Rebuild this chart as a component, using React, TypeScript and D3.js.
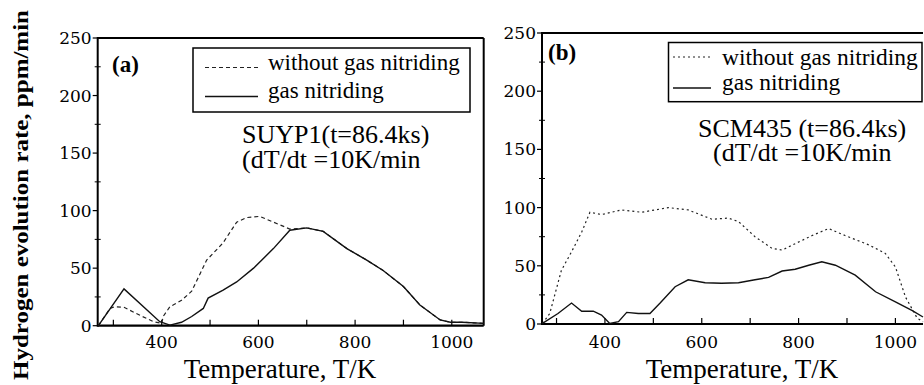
import React from "react";
import * as d3 from "d3";

// ---------- data ----------
const yTicksMajor = [0, 50, 100, 150, 200, 250];
const yTicksMinor = [25, 75, 125, 175, 225];
const xTickLabels = [400, 600, 800, 1000];
const xTicksAll = [300, 400, 500, 600, 700, 800, 900, 1000];

// Panel (a) SUYP1
const aTemp = [269, 322, 396, 417, 441, 462, 486, 496, 527, 555, 590, 631, 665, 700, 734, 783, 824, 858, 900, 934, 976, 997, 1021, 1066];
const aNitrided = [0, 32, 3.5, 0.5, 3, 8, 15, 24, 31, 38, 50, 67, 83, 85, 82, 67, 57, 48, 34, 18, 5, 3, 3, 2];
const aTempWithout = [269, 293, 303, 322, 355, 383, 400, 403, 417, 441, 462, 493, 527, 555, 576, 603, 631, 665, 700, 734, 783, 824, 858, 900, 934, 976, 997, 1021, 1066];
const aWithout = [0, 15, 16.5, 16, 9, 3.5, 2, 8, 16.5, 22, 30, 57, 72, 90, 94, 95, 90, 84, 85, 82, 67, 57, 48, 34, 18, 5, 3, 3, 2];

// Panel (b) SCM435
const bTemp = [271, 303, 331, 352, 376, 393, 410, 428, 445, 469, 493, 514, 545, 572, 607, 641, 676, 710, 738, 766, 793, 821, 848, 876, 917, 959, 1000, 1035, 1057];
const bNitrided = [0.5, 9, 18, 11, 11, 7.7, 0.5, 2, 10, 9, 9, 18, 32, 38, 35.5, 35, 35.5, 38, 40, 45.5, 47, 50.5, 53.5, 50.5, 42, 27.7, 19, 11.5, 6];
const bTempWithout = [271, 286, 310, 331, 352, 369, 393, 434, 476, 531, 572, 621, 655, 676, 710, 745, 766, 793, 828, 862, 896, 945, 979, 1000, 1021, 1045, 1057];
const bWithout = [0.5, 9, 46, 62, 79, 96, 94, 98, 96, 100, 98, 90, 91, 88, 75, 65, 63.5, 69, 76, 82, 76, 68, 60.7, 49, 23, 5, 2];

const legendLabels = ["without gas nitriding", "gas nitriding"];
const yTitle = "Hydrogen evolution rate, ppm/min";
const xTitle = "Temperature, T/K";

const SERIF = "Liberation Serif";
const TICKFONT = "DejaVu Serif";

type PanelProps = {
  left: number; right: number; top: number; bottom: number;
  xMin: number; xMax: number;
  tempA: number[]; valA: number[]; // without
  tempB: number[]; valB: number[]; // nitrided
  dashA: string;
  tag: string; tagX: number; tagY: number;
  legend: { x0: number; y0: number; x1: number; y1: number; lx0: number; lx1: number; ly1: number; ly2: number; tx: number; tb1: number; tb2: number; fs: number };
  ann: { l1: string; l2: string; x1: number; x2: number; b1: number; b2: number };
  xTitleX: number;
  rightBorder: boolean;
};

function Panel(p: PanelProps) {
  const x = d3.scaleLinear().domain([p.xMin, p.xMax]).range([p.left, p.right]);
  const y = d3.scaleLinear().domain([0, 250]).range([p.bottom, p.top]);
  const line = d3.line<[number, number]>().x(d => x(d[0])).y(d => y(d[1])).curve(d3.curveLinear);
  const dA = line(p.tempA.map((t, i) => [t, p.valA[i]]))!;
  const dB = line(p.tempB.map((t, i) => [t, p.valB[i]]))!;
  return (
    <g>
      {/* frame */}
      <line x1={p.left} x2={p.right} y1={p.top} y2={p.top} stroke="#000" strokeWidth={2} />
      {p.rightBorder && <line x1={p.right} x2={p.right} y1={p.top} y2={p.bottom} stroke="#000" strokeWidth={2} />}
      <line x1={p.left} x2={p.left} y1={p.top - 1} y2={p.bottom + 1} stroke="#000" strokeWidth={2} />
      <line x1={p.left} x2={p.right} y1={p.bottom} y2={p.bottom} stroke="#000" strokeWidth={2.2} />
      {/* y ticks */}
      {yTicksMajor.map(v => (
        <g key={"ym" + v}>
          <line x1={p.left - 5} x2={p.left} y1={y(v)} y2={y(v)} stroke="#000" strokeWidth={1.2} />
          <text x={p.left - 6} y={y(v)} textAnchor="end" dominantBaseline="central" fontFamily={TICKFONT} fontSize={17}>{v}</text>
        </g>
      ))}
      {yTicksMinor.map(v => (
        <line key={"yn" + v} x1={p.left - 3} x2={p.left + 3} y1={y(v)} y2={y(v)} stroke="#000" strokeWidth={1} />
      ))}
      {/* x ticks */}
      {xTicksAll.filter(t => x(t) > p.left + 2 && x(t) < p.right - 2).map(t => (
        <line key={"xt" + t} x1={x(t)} x2={x(t)} y1={p.bottom} y2={p.bottom - 6} stroke="#000" strokeWidth={1.2} />
      ))}
      {xTickLabels.map(t => (
        <text key={"xl" + t} x={x(t)} y={348} textAnchor="middle" fontFamily={TICKFONT} fontSize={17}>{t}</text>
      ))}
      {/* curves */}
      <path d={dA} fill="none" stroke="#222" strokeWidth={1.2} strokeDasharray={p.dashA} />
      <path d={dB} fill="none" stroke="#111" strokeWidth={1.4} />
      {/* tag */}
      <text x={p.tagX} y={p.tagY} fontFamily={SERIF} fontWeight="bold" fontSize={23}>{p.tag}</text>
      {/* legend */}
      <rect x={p.legend.x0} y={p.legend.y0} width={p.legend.x1 - p.legend.x0} height={p.legend.y1 - p.legend.y0} fill="#fff" stroke="#000" strokeWidth={1.5} />
      <line x1={p.legend.lx0} x2={p.legend.lx1} y1={p.legend.ly1} y2={p.legend.ly1} stroke="#222" strokeWidth={1.2} strokeDasharray={p.dashA} />
      <line x1={p.legend.lx0} x2={p.legend.lx1} y1={p.legend.ly2} y2={p.legend.ly2} stroke="#111" strokeWidth={1.4} />
      <text x={p.legend.tx} y={p.legend.tb1} fontFamily={SERIF} fontSize={p.legend.fs}>{legendLabels[0]}</text>
      <text x={p.legend.tx} y={p.legend.tb2} fontFamily={SERIF} fontSize={p.legend.fs}>{legendLabels[1]}</text>
      {/* annotation */}
      <text x={p.ann.x1} y={p.ann.b1} fontFamily={SERIF} fontSize={26}>{p.ann.l1}</text>
      <text x={p.ann.x2} y={p.ann.b2} fontFamily={SERIF} fontSize={26}>{p.ann.l2}</text>
      {/* x title */}
      <text x={p.xTitleX} y={378} textAnchor="middle" fontFamily={SERIF} fontSize={27}>{xTitle}</text>
    </g>
  );
}

export default function App() {
  return (
    <svg width={924} height={385} viewBox="0 0 924 385" style={{ position: "absolute", left: 0, top: 0, background: "#fff" }}>
      <rect x={0} y={0} width={924} height={385} fill="#fff" />
      <text transform="translate(21,195) rotate(-90)" textAnchor="middle" dominantBaseline="central" fontFamily={SERIF} fontWeight="bold" fontSize={21} textLength={370} lengthAdjust="spacingAndGlyphs">{yTitle}</text>
      <Panel
        left={97.7} right={483.7} top={38} bottom={325.7}
        xMin={267.6} xMax={1066}
        tempA={aTempWithout} valA={aWithout}
        tempB={aTemp} valB={aNitrided}
        dashA="4,3"
        tag="(a)" tagX={112} tagY={72}
        legend={{ x0: 193, y0: 48, x1: 470, y1: 112, lx0: 205, lx1: 258, ly1: 67.5, ly2: 96.5, tx: 268, tb1: 70, tb2: 98, fs: 23 }}
        ann={{ l1: "SUYP1(t=86.4ks)", l2: "(dT/dt =10K/min", x1: 242, x2: 242, b1: 143, b2: 168 }}
        xTitleX={280}
        rightBorder={true}
      />
      <Panel
        left={542} right={923} top={33} bottom={324}
        xMin={270} xMax={1057}
        tempA={bTempWithout} valA={bWithout}
        tempB={bTemp} valB={bNitrided}
        dashA="2,3"
        tag="(b)" tagX={548} tagY={60}
        legend={{ x0: 668.5, y0: 42.5, x1: 922, y1: 101.7, lx0: 673, lx1: 711, ly1: 57, ly2: 88, tx: 722, tb1: 65, tb2: 90, fs: 23.5 }}
        ann={{ l1: "SCM435 (t=86.4ks)", l2: "(dT/dt =10K/min", x1: 698, x2: 713, b1: 137, b2: 161 }}
        xTitleX={742}
        rightBorder={false}
      />
    </svg>
  );
}
